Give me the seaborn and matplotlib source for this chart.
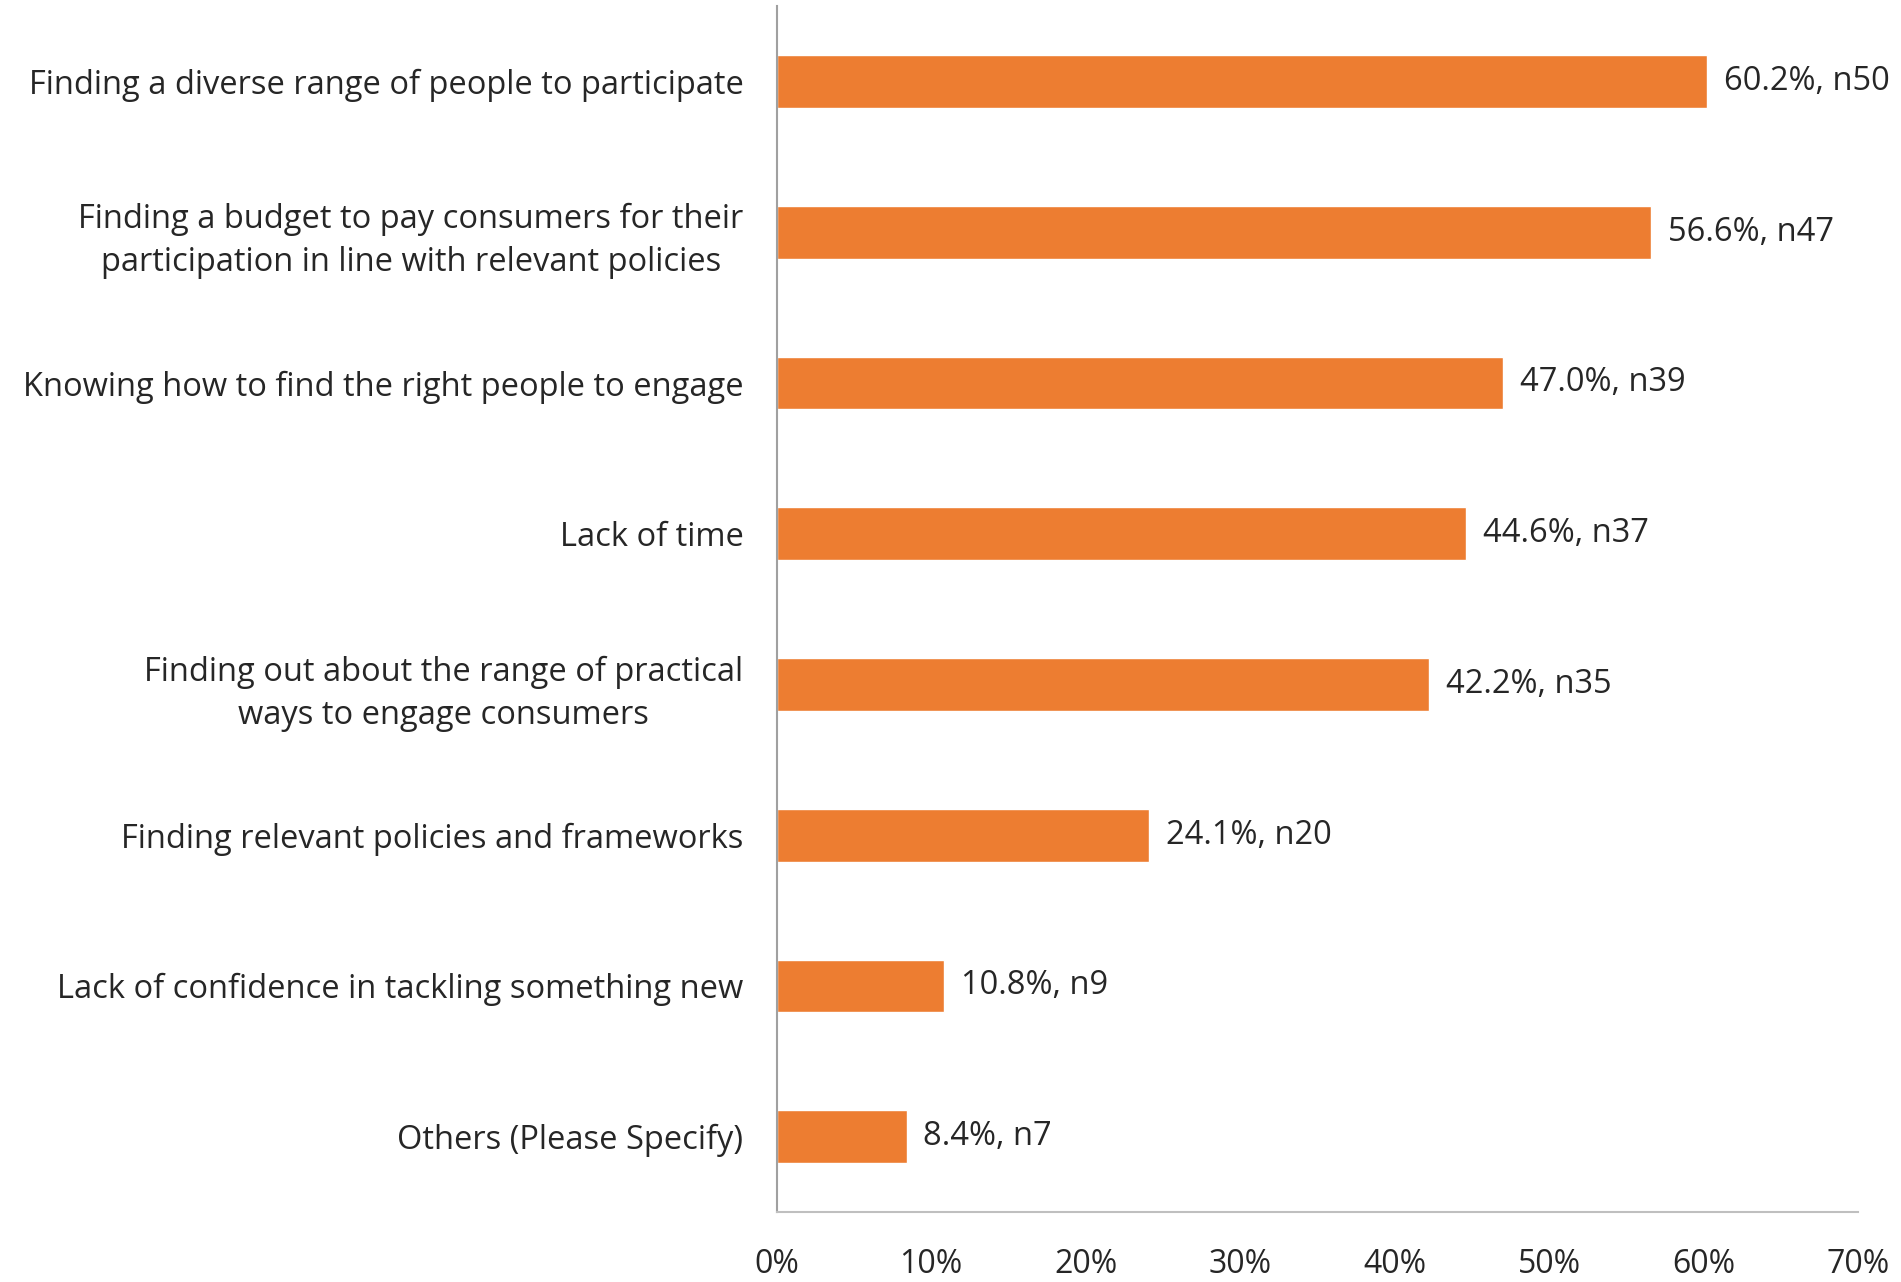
import matplotlib
matplotlib.use("Agg")
import matplotlib.pyplot as plt
import seaborn as sns
import pandas as pd
from matplotlib.ticker import PercentFormatter

categories = [
    "Finding a diverse range of people to participate",
    "Finding a budget to pay consumers for their\nparticipation in line with relevant policies",
    "Knowing how to find the right people to engage",
    "Lack of time",
    "Finding out about the range of practical\nways to engage consumers",
    "Finding relevant policies and frameworks",
    "Lack of confidence in tackling something new",
    "Others (Please Specify)",
]
percent = [60.2, 56.6, 47.0, 44.6, 42.2, 24.1, 10.8, 8.4]
counts = [50, 47, 39, 37, 35, 20, 9, 7]
xticks = [0, 10, 20, 30, 40, 50, 60, 70]

df = pd.DataFrame({"cat": categories, "pct": percent, "n": counts})

sns.set_theme(style="white")
plt.rcParams["font.family"] = ["Open Sans", "DejaVu Sans"]

fig = plt.figure(figsize=(19.01, 12.82), dpi=100)
ax = fig.add_axes([0.4086, 0.0546, 0.9774 - 0.4086, 0.9953 - 0.0546])

sns.barplot(data=df, y="cat", x="pct", orient="h", color="#ED7D31",
            saturation=1, width=0.35, ax=ax)

ax.set_xlim(0, 70)
ax.set_ylim(len(categories) - 0.5, -0.5)
ax.set_xticks(xticks)
ax.xaxis.set_major_formatter(PercentFormatter(decimals=0))
ax.set_xlabel("")
ax.set_ylabel("")

for i, (p, n) in enumerate(zip(percent, counts)):
    ax.text(p + 1.1, i, f"{p:.1f}%, n{n}", va="center", ha="left", fontsize=23.5)

for s in ["top", "right"]:
    ax.spines[s].set_visible(False)
ax.spines["left"].set_color("#A0A0A0")
ax.spines["bottom"].set_color("#BFBFBF")
ax.spines["left"].set_linewidth(1.5)
ax.spines["bottom"].set_linewidth(1.5)

ax.tick_params(axis="y", length=0, labelsize=23.5, pad=24)
ax.tick_params(axis="x", length=0, labelsize=23, pad=26)
for lbl in ax.get_yticklabels():
    lbl.set_multialignment("center")
    lbl.set_linespacing(1.4)

fig.savefig("out.png", dpi=100)
